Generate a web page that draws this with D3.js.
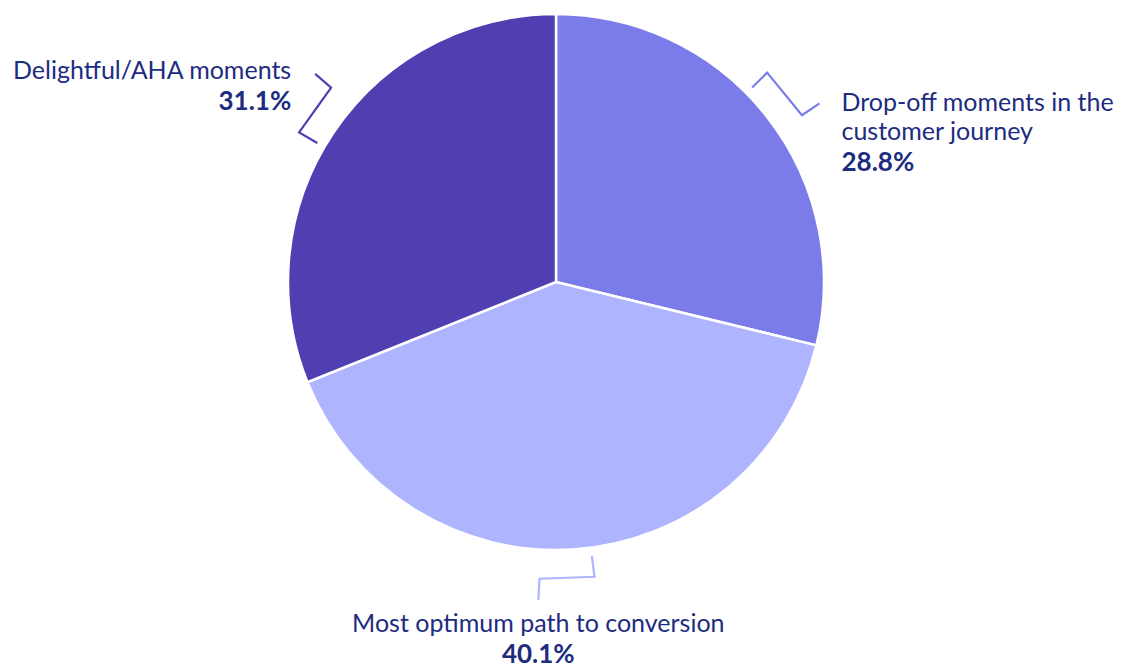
<!DOCTYPE html>
<html>
<head>
  <meta charset="utf-8" />
  <title>Moments pie</title>
  <style>
    body { margin: 0; background: #fff; }
    svg { display: block; }
    .lbl { font-family: Lato, "Open Sans", sans-serif; fill: #1d2c80; }
    .lbl .name { font-size: 25px; font-weight: 400; }
    .lbl .pct { font-size: 26px; font-weight: 700; }
  </style>
</head>
<body>
  <svg></svg>
  <script src="https://d3js.org/d3.v7.min.js"></script>
  <script>
    var width = 1121,
      height = 669;

    // slices, clockwise from 12 o'clock
    var categories = ["Drop-off moments in the customer journey", "Most optimum path to conversion", "Delightful/AHA moments"];
    var labelLines = [["Drop-off moments in the", "customer journey"], ["Most optimum path to conversion"], ["Delightful/AHA moments"]];
    var values = [28.8, 40.1, 31.1];
    var colors = ["#7b7ce9", "#afb4ff", "#4f3fb0"];

    var cx = 556, cy = 282, R = 268;
    // small nudges (degrees) of the connector away from the exact mid angle
    var nudge = [-1.2, 2.1, 1.6];

    var svg = d3.select("svg")
      .attr("width", width)
      .attr("height", height);

    var pie = d3.pie().sort(null).value(d => d)(values);
    var arc = d3.arc().innerRadius(0).outerRadius(R);

    var g = svg.append("g").attr("transform", `translate(${cx},${cy})`);

    g.selectAll("path.slice")
      .data(pie)
      .enter()
      .append("path")
      .attr("class", "slice")
      .attr("d", arc)
      .attr("fill", (d, i) => colors[i])
      .attr("stroke", "#fff")
      .attr("stroke-width", 2.5);

    // bracket shaped connectors, u = radial, v = tangential
    var bracket = [[-21, -26], [0, -28], [0, 27], [21, 29]];
    var off = 28;
    function pt(a, u, v) {
      var r = R + off + u;
      return [r * Math.sin(a) + v * Math.cos(a), -r * Math.cos(a) + v * Math.sin(a)];
    }

    pie.forEach(function (d, i) {
      var a = (d.startAngle + d.endAngle) / 2 + nudge[i] * Math.PI / 180;
      var pts = bracket.map(p => pt(a, p[0], p[1]));
      g.append("path")
        .attr("d", d3.line()(pts))
        .attr("fill", "none")
        .attr("stroke", colors[i])
        .attr("stroke-width", 2.2)
        .attr("stroke-linejoin", "miter");

      var e = pts[3];
      var s = Math.sin(a);
      var anchor, x, y;
      if (Math.abs(s) < 0.3) { anchor = "middle"; x = e[0]; y = e[1] + 32; }
      else if (s > 0) { anchor = "start"; x = e[0] + 22; y = e[1] + 8; }
      else { anchor = "end"; x = e[0] - 24; y = e[1] + 5; }

      var t = g.append("text").attr("class", "lbl")
        .attr("text-anchor", anchor);
      labelLines[i].forEach(function (line, j) {
        t.append("tspan").attr("class", "name")
          .attr("x", x).attr("y", y + j * 29)
          .text(line);
      });
      t.append("tspan").attr("class", "pct")
        .attr("x", x).attr("y", y + (labelLines[i].length - 1) * 29 + 31)
        .text(values[i].toFixed(1) + "%");
    });
  </script>
</body>
</html>
